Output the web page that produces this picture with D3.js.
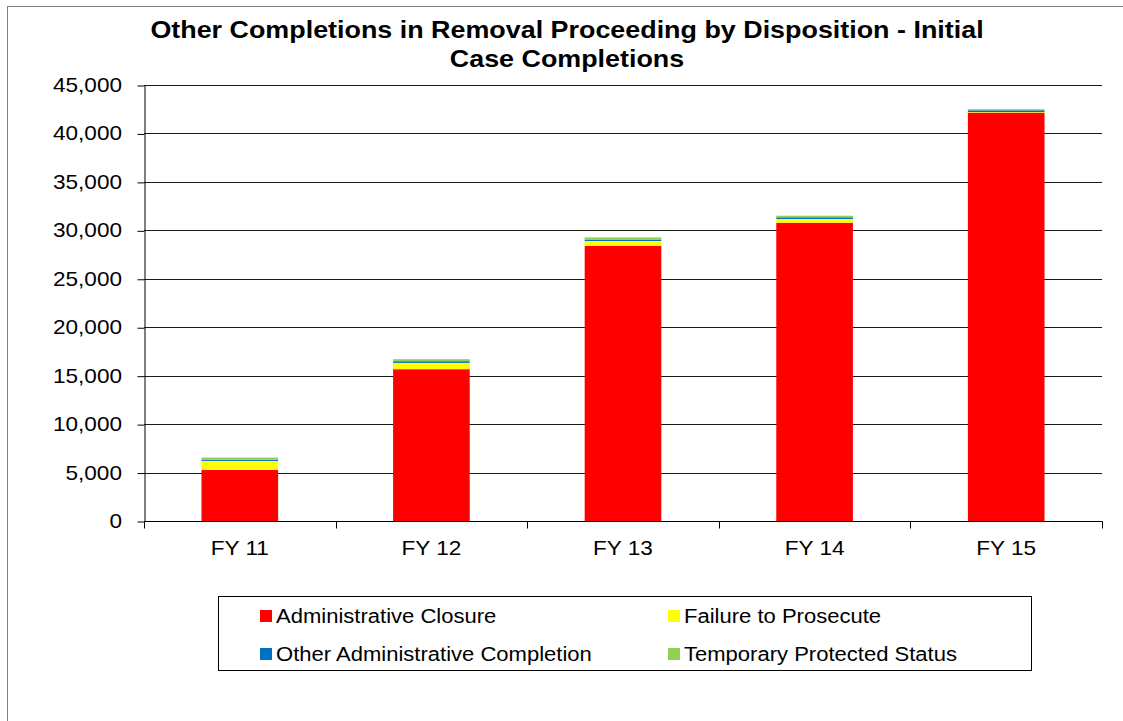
<!DOCTYPE html>
<html>
  <head>
    <meta charset="utf-8">
    <title>Other Completions</title>
    <script src="https://d3js.org/d3.v7.min.js"></script>
    <style>
      body { margin: 0; background: #fff; }
      svg { font-family: "Liberation Sans", Arial, sans-serif; }
    </style>
  </head>
  <body>
    <div id="chart"></div>
    <script>

      // Data
      var years = ["FY 11", "FY 12", "FY 13", "FY 14", "FY 15"];
      var series = ["Administrative Closure", "Failure to Prosecute", "Other Administrative Completion", "Temporary Protected Status"];
      var adminClosure = [5270, 15670, 28410, 30790, 42150];
      var failureToProsecute = [930, 650, 490, 380, 60];
      var otherAdmin = [120, 170, 150, 170, 180];
      var tps = [230, 210, 220, 170, 110];
      var yTicks = [0, 5000, 10000, 15000, 20000, 25000, 30000, 35000, 40000, 45000];
      var colors = ["#FF0000", "#FFFF00", "#0070C0", "#92D050"];

      var width = 1123, height = 721;
      var margin = {top: 85, right: 21, bottom: 200, left: 144};
      var stretch = 1.13; // text in the picture is a bit wider than Liberation Sans

      var svg = d3.select("#chart").append("svg")
        .attr("width", width)
        .attr("height", height);

      // put a stretched label at (x, y)
      function label(parent, x, y, txt, size, anchor, weight) {
        var g = parent.append("g")
          .attr("transform", "translate(" + x + "," + y + ") scale(" + stretch + ",1)");
        g.append("text")
          .attr("text-anchor", anchor || "start")
          .attr("font-size", size)
          .attr("font-weight", weight || "normal")
          .attr("fill", "#000")
          .text(txt);
        return g;
      }

      // outer chart border
      svg.append("rect")
        .attr("x", 7.5).attr("y", 6.5)
        .attr("width", 1130).attr("height", 730)
        .attr("fill", "none").attr("stroke", "#808080");

      var rows = years.map(function (y, i) {
        return {
          year: y,
          "Administrative Closure": adminClosure[i],
          "Failure to Prosecute": failureToProsecute[i],
          "Other Administrative Completion": otherAdmin[i],
          "Temporary Protected Status": tps[i]
        };
      });
      var stacked = d3.stack().keys(series)(rows);

      var x = d3.scaleBand()
        .domain(years)
        .range([margin.left, width - margin.right])
        .paddingInner(0.6)
        .paddingOuter(0.3);

      var y = d3.scaleLinear()
        .domain([0, 45000])
        .range([521, margin.top]);

      // gridlines
      svg.append("g").selectAll("line")
        .data(yTicks.slice(1))
        .enter().append("line")
          .attr("x1", margin.left).attr("x2", width - margin.right)
          .attr("y1", function (d) { return Math.round(y(d)) + 0.5; })
          .attr("y2", function (d) { return Math.round(y(d)) + 0.5; })
          .attr("stroke", "#1a1a1a").attr("stroke-width", 1);

      // bars
      svg.append("g").selectAll("g")
        .data(stacked)
        .enter().append("g")
          .attr("fill", function (d, i) { return colors[i]; })
        .selectAll("rect")
        .data(function (d) { return d; })
        .enter().append("rect")
          .attr("x", function (d) { return x(d.data.year); })
          .attr("width", x.bandwidth())
          .attr("y", function (d) { return y(d[1]); })
          .attr("height", function (d) { return y(d[0]) - y(d[1]); });

      // y axis
      var yAxis = svg.append("g")
        .attr("transform", "translate(" + (margin.left + 0.5) + ",0.5)")
        .call(d3.axisLeft(y).tickValues(yTicks).tickSize(7).tickSizeOuter(0).tickFormat(""));
      yAxis.selectAll("line, path").attr("stroke", "#000");
      var yLabels = svg.append("g");
      yTicks.forEach(function (t) {
        label(yLabels, margin.left - 22, y(t) + 7, d3.format(",")(t), 20, "end");
      });

      // x axis with ticks between categories
      var xg = svg.append("g").attr("transform", "translate(0,521.5)");
      xg.append("line")
        .attr("x1", margin.left).attr("x2", width - margin.right + 0.5)
        .attr("stroke", "#000");
      var step = x.step();
      var bounds = d3.range(years.length + 1).map(function (i) { return margin.left + i * step; });
      xg.selectAll("line.tick")
        .data(bounds)
        .enter().append("line")
          .attr("class", "tick")
          .attr("x1", function (d) { return Math.round(d) + 0.5; })
          .attr("x2", function (d) { return Math.round(d) + 0.5; })
          .attr("y1", 0).attr("y2", 7)
          .attr("stroke", "#000");
      years.forEach(function (d) {
        label(xg, x(d) + x.bandwidth() / 2, 33, d, 20, "middle");
      });

      // title
      label(svg, 567, 38, "Other Completions in Removal Proceeding by Disposition - Initial", 23.8, "middle", "bold");
      label(svg, 567, 67, "Case Completions", 23.8, "middle", "bold");

      // legend
      var legend = svg.append("g");
      legend.append("rect")
        .attr("x", 218.5).attr("y", 596.5)
        .attr("width", 813).attr("height", 74)
        .attr("fill", "#fff").attr("stroke", "#000");
      var legPos = [[260, 616], [668, 616], [260, 654], [668, 654]];
      series.forEach(function (s, i) {
        var g = legend.append("g")
          .attr("transform", "translate(" + legPos[i][0] + "," + legPos[i][1] + ")");
        g.append("rect")
          .attr("x", 0).attr("y", -6)
          .attr("width", 12).attr("height", 12)
          .attr("fill", colors[i]);
        label(g, 16, 7, s, 19.5, "start");
      });

    </script>
  </body>
</html>
